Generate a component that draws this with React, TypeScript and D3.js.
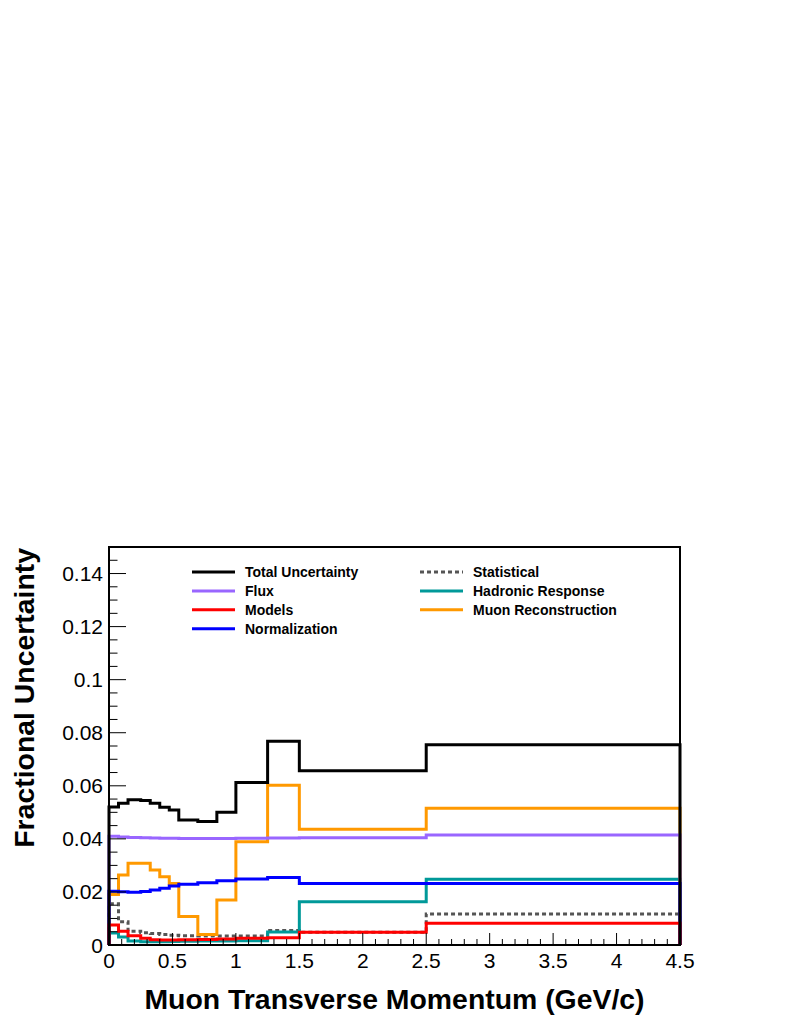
import { useEffect, useRef } from "react";
import * as d3 from "d3";

// bin edges of muon pT (GeV/c)
const binEdges = [0, 0.075, 0.15, 0.25, 0.325, 0.4, 0.475, 0.55, 0.7, 0.85, 1.0, 1.25, 1.5, 2.5, 4.5];

const totalUnc = [0.052, 0.0534, 0.0547, 0.0545, 0.0534, 0.0519, 0.0509, 0.0471, 0.0465, 0.05, 0.0612, 0.0768, 0.0657, 0.0755];
const fluxUnc = [0.041, 0.0407, 0.0405, 0.0404, 0.0403, 0.0402, 0.0402, 0.0401, 0.0401, 0.0401, 0.0402, 0.0403, 0.0404, 0.0415];
const modelsUnc = [0.0075, 0.0052, 0.0035, 0.0025, 0.002, 0.0019, 0.0019, 0.002, 0.0021, 0.0023, 0.0025, 0.0027, 0.0048, 0.0082];
const normUnc = [0.0203, 0.0201, 0.0199, 0.0202, 0.0207, 0.0214, 0.0222, 0.0229, 0.0235, 0.0242, 0.0249, 0.0254, 0.0232, 0.0232];
const statUnc = [0.0155, 0.0088, 0.0052, 0.0046, 0.0043, 0.004, 0.0037, 0.0035, 0.0034, 0.0034, 0.0034, 0.0055, 0.0048, 0.0117];
const hadronicUnc = [0.0045, 0.003, 0.0015, 0.0012, 0.0012, 0.0012, 0.0013, 0.0014, 0.0015, 0.0015, 0.0016, 0.0049, 0.0163, 0.0248];
const muonRecoUnc = [0.019, 0.0264, 0.0308, 0.0308, 0.0283, 0.0257, 0.0232, 0.0107, 0.004, 0.017, 0.0389, 0.0602, 0.0436, 0.0515];

const yTicks = [0, 0.02, 0.04, 0.06, 0.08, 0.1, 0.12, 0.14];
const xTicks = [0, 0.5, 1, 1.5, 2, 2.5, 3, 3.5, 4, 4.5];

interface Series {
  name: string;
  values: number[];
  color: string;
  dashed?: boolean;
}

const seriesList: Series[] = [
  { name: "Statistical", values: statUnc, color: "#555555", dashed: true },
  { name: "Hadronic Response", values: hadronicUnc, color: "#009999" },
  { name: "Muon Reconstruction", values: muonRecoUnc, color: "#ff9900" },
  { name: "Flux", values: fluxUnc, color: "#9966ff" },
  { name: "Normalization", values: normUnc, color: "#0000ff" },
  { name: "Models", values: modelsUnc, color: "#ff0000" },
  { name: "Total Uncertainty", values: totalUnc, color: "#000000" },
];

const legendLeft = ["Total Uncertainty", "Flux", "Models", "Normalization"];
const legendRight = ["Statistical", "Hadronic Response", "Muon Reconstruction"];

export default function App() {
  const ref = useRef<SVGSVGElement | null>(null);

  useEffect(() => {
    document.body.style.margin = "0";
    if (!ref.current) return;

    const width = 789;
    const height = 1021;
    const margin = { top: 547, right: 109, bottom: 76, left: 109 };
    const font = "'Liberation Sans', Arial, Helvetica, sans-serif";

    const svg = d3.select(ref.current).attr("viewBox", `0 0 ${width} ${height}`);
    svg.selectAll("*").remove();

    const x = d3.scaleLinear().domain([0, 4.5]).range([margin.left, width - margin.right]);
    const y = d3.scaleLinear().domain([0, 0.15]).range([height - margin.bottom, margin.top]);

    /* ---------------- HISTOGRAMS ---------------- */

    const line = d3
      .line<[number, number]>()
      .x(d => x(d[0]))
      .y(d => y(d[1]))
      .curve(d3.curveStepAfter);

    seriesList.forEach(s => {
      const pts: [number, number][] = [[0, 0]];
      s.values.forEach((v, i) => pts.push([binEdges[i], v]));
      const last = s.values[s.values.length - 1];
      pts.push([binEdges[binEdges.length - 1], last]);
      pts.push([binEdges[binEdges.length - 1], 0]);

      svg.append("path")
        .datum(pts)
        .attr("fill", "none")
        .attr("stroke", s.color)
        .attr("stroke-width", 3)
        .attr("stroke-dasharray", s.dashed ? "4,3" : null)
        .attr("d", line);
    });

    /* ---------------- FRAME ---------------- */

    svg.append("rect")
      .attr("x", x(0))
      .attr("y", y(0.15))
      .attr("width", x(4.5) - x(0))
      .attr("height", y(0) - y(0.15))
      .attr("fill", "none")
      .attr("stroke", "#000")
      .attr("stroke-width", 2);

    /* ---------------- Y AXIS ---------------- */

    const yMinor = d3.range(0, 0.1501, 0.005);
    svg.selectAll(".ytick")
      .data(yMinor)
      .enter()
      .append("line")
      .attr("x1", x(0))
      .attr("x2", (_, i) => x(0) + (i % 4 === 0 ? 17 : 8.5))
      .attr("y1", d => y(d))
      .attr("y2", d => y(d))
      .attr("stroke", "#000")
      .attr("stroke-width", 1);

    svg.selectAll(".ylabel")
      .data(yTicks)
      .enter()
      .append("text")
      .attr("x", 103)
      .attr("y", d => y(d) + 7.5)
      .attr("text-anchor", "end")
      .attr("font-family", font)
      .attr("font-size", 21)
      .text(d => (d === 0 ? "0" : String(d)));

    /* ---------------- X AXIS ---------------- */

    const xMinor = d3.range(0, 4.5001, 0.1);
    svg.selectAll(".xtick")
      .data(xMinor)
      .enter()
      .append("line")
      .attr("x1", d => x(d))
      .attr("x2", d => x(d))
      .attr("y1", y(0))
      .attr("y2", (_, i) => y(0) - (i % 5 === 0 ? 12 : 6))
      .attr("stroke", "#000")
      .attr("stroke-width", 1);

    svg.selectAll(".xlabel")
      .data(xTicks)
      .enter()
      .append("text")
      .attr("x", d => x(d))
      .attr("y", 968)
      .attr("text-anchor", "middle")
      .attr("font-family", font)
      .attr("font-size", 21)
      .text(d => String(d));

    /* ---------------- TITLES ---------------- */

    svg.append("text")
      .attr("x", (x(0) + x(4.5)) / 2)
      .attr("y", 1009)
      .attr("text-anchor", "middle")
      .attr("font-family", font)
      .attr("font-weight", "bold")
      .attr("font-size", 28.4)
      .text("Muon Transverse Momentum (GeV/c)");

    svg.append("text")
      .attr("transform", `translate(34, 548) rotate(-90)`)
      .attr("text-anchor", "end")
      .attr("font-family", font)
      .attr("font-weight", "bold")
      .attr("font-size", 28.4)
      .text("Fractional Uncertainty");

    /* ---------------- LEGEND ---------------- */

    const byName = new Map(seriesList.map(s => [s.name, s]));
    const drawLegend = (names: string[], lx: number) => {
      names.forEach((n, i) => {
        const s = byName.get(n)!;
        const ly = 572 + i * 18.9;
        svg.append("line")
          .attr("x1", lx)
          .attr("x2", lx + 43)
          .attr("y1", ly)
          .attr("y2", ly)
          .attr("stroke", s.color)
          .attr("stroke-width", 3)
          .attr("stroke-dasharray", s.dashed ? "4,3" : null);
        svg.append("text")
          .attr("x", lx + 53)
          .attr("y", ly + 5)
          .attr("font-family", font)
          .attr("font-weight", "bold")
          .attr("font-size", 14)
          .text(n);
      });
    };
    drawLegend(legendLeft, 192);
    drawLegend(legendRight, 420);
  }, []);

  return (
    <svg
      ref={ref}
      width={789}
      height={1021}
      style={{ display: "block", background: "#fff" }}
    />
  );
}
